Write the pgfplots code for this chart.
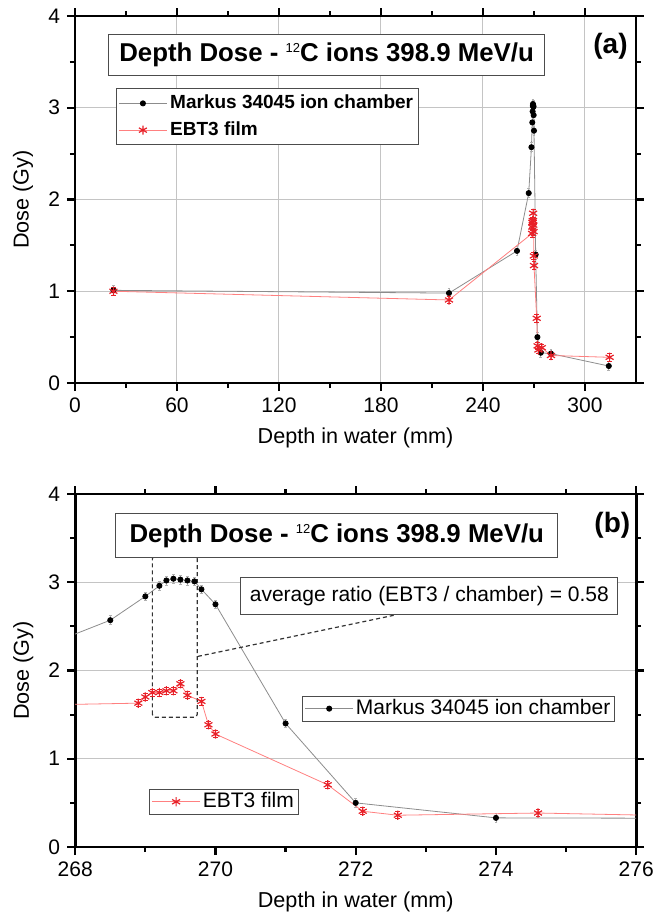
\documentclass[border=0pt]{standalone}
\usepackage{pgfplots}
\pgfplotsset{compat=1.18}
\usepackage{pgfplotstable}
\usepackage{fontspec}
\setmainfont{Liberation Sans}
\usetikzlibrary{plotmarks}

\definecolor{chline}{HTML}{8C8C8C}
\definecolor{chbar}{HTML}{B0B0B0}
\definecolor{filmline}{HTML}{FF8080}
\definecolor{filmmark}{HTML}{E82028}
\definecolor{gridc}{HTML}{C4C4C4}

\pgfplotstableread{
x y
22.6 1.01
220 0.98
260 1.44
266.9 2.07
268.5 2.57
269.0 2.84
269.2 2.96
269.3 3.02
269.4 3.04
269.5 3.03
269.6 3.02
269.7 3.01
269.8 2.92
270.0 2.75
271.0 1.40
272.0 0.50
274.0 0.33
280.0 0.32
314.0 0.185
}\chamber

\pgfplotstableread{
x y
22.6 1.00
220 0.905
268.9 1.63
269.0 1.70
269.1 1.75
269.2 1.75
269.3 1.77
269.4 1.77
269.5 1.85
269.6 1.72
269.8 1.65
269.9 1.385
270.0 1.28
271.6 0.705
272.1 0.405
272.6 0.36
274.6 0.385
280.0 0.30
314.5 0.28
}\film

\pgfplotsset{
  legend image code/.code={\draw[mark repeat=2,mark phase=2,#1] plot coordinates {(0cm,0cm)(0.42cm,0cm)(0.84cm,0cm)};},
  chstyle/.style={color=chline, line width=0.4pt, mark=*, mark size=1.3pt,
    mark options={fill=black, draw=black},
    error bars/y dir=both, error bars/y fixed=0.05,
    error bars/error bar style={chbar, line width=0.35pt},
    error bars/error mark options={rotate=90, mark size=0.7pt, chbar}},
  filmstyle/.style={color=filmline, line width=0.4pt, mark=asterisk, mark size=2.3pt,
    mark options={draw=filmmark, line width=0.6pt},
    error bars/y dir=both, error bars/y fixed=0.04,
    error bars/error bar style={filmline, line width=0.4pt},
    error bars/error mark options={rotate=90, mark size=1.2pt, filmmark}},
  mystyle/.style={
    scale only axis, width=280.5pt,
    axis line style={line width=1.4pt},
    tick align=outside,
    major tick length=4pt, minor tick length=2.5pt,
    every tick/.style={black, line width=1.1pt},
    tick label style={font=\fontsize{10.5}{12}\selectfont},
    label style={font=\fontsize{10.8}{12}\selectfont},
    /pgf/number format/assume math mode=true,
    /pgf/number format/1000 sep={},
    ymin=0, ymax=4, ytick={0,1,2,3,4}, minor ytick={0.5,1.5,2.5,3.5},
    ylabel={Dose (Gy)}, xlabel={Depth in water (mm)},
    ylabel style={at={(axis description cs:-0.0927,0.5)}, anchor=center},
    xlabel style={at={(axis description cs:0.5,0)}, anchor=center, yshift=-27.5pt},
    every major grid/.style={gridc, line width=0.5pt},
  },
}

\begin{document}
\begin{tikzpicture}
% ---------- (a) ----------
\begin{axis}[mystyle, at={(0,232pt)}, anchor=south west, height=183.5pt,
  xmin=0, xmax=330, xtick={0,60,...,300}, minor xtick={30,90,150,210,270},
  grid=major,
  legend style={at={(axis description cs:0.0733,0.8025)}, anchor=north west,
    font=\bfseries\fontsize{9.5}{11}\selectfont, draw=black!70, line width=0.5pt,
    inner xsep=1pt, inner ysep=1.5pt, row sep=2pt, nodes={inner sep=1.5pt}},
  legend cell align=left]
\addplot[chstyle] table {\chamber};
\addlegendentry{Markus 34045 ion chamber}
\addplot[filmstyle] table {\film};
\addlegendentry{EBT3 film}
\node[draw=black!70, line width=0.5pt, fill=white, minimum width=218pt, minimum height=20.4pt, inner sep=0pt,
  font=\bfseries\fontsize{12.9}{14}\selectfont] at (axis cs:148,3.575)
  {Depth Dose - \raisebox{4.5pt}{\mdseries\fontsize{6.5}{7}\selectfont 12}C ions 398.9 MeV/u};
\node[font=\bfseries\fontsize{14}{14}\selectfont] at (axis cs:315,3.67) {(a)};
\end{axis}
% ---------- (b) ----------
\begin{axis}[mystyle, at={(0,0)}, anchor=south west, height=176.5pt,
  xmin=268, xmax=276, xtick={268,270,...,276}, minor xtick={269,271,273,275},
  ymajorgrids,
  legend style={at={(axis description cs:0.405,0.4288)}, anchor=north west,
    font=\fontsize{10.5}{12}\selectfont, draw=black!70, line width=0.5pt,
    inner xsep=1pt, inner ysep=0.5pt, nodes={inner sep=1.2pt}},
  legend cell align=left]
\addplot[chstyle, forget plot] table {\chamber};
\addplot[filmstyle, forget plot] table {\film};
\addlegendimage{chstyle}
\addlegendentry{Markus 34045 ion chamber}
\draw[dashed, dash pattern=on 2pt off 1.5pt, rounded corners=1.5pt, line width=0.6pt, black!80]
  (axis cs:269.1,1.47) rectangle (axis cs:269.74,3.30);
\draw[dashed, dash pattern=on 2pt off 1.5pt, line width=0.6pt, black!80]
  (axis cs:269.75,2.16) -- (axis cs:272.57,2.63);
\node[draw=black!70, line width=0.5pt, fill=white, minimum width=188.5pt, minimum height=18.5pt, inner sep=0pt,
  font=\fontsize{10.5}{12}\selectfont] at (axis cs:273.05,2.84)
  {average ratio (EBT3 / chamber) = 0.58};
\node[draw=black!70, line width=0.5pt, fill=white, minimum width=221pt, minimum height=22pt, inner sep=0pt,
  font=\bfseries\fontsize{12.9}{14}\selectfont] at (axis cs:271.73,3.53)
  {Depth Dose - \raisebox{4.5pt}{\mdseries\fontsize{6.5}{7}\selectfont 12}C ions 398.9 MeV/u};
\node[font=\bfseries\fontsize{14}{14}\selectfont] at (axis cs:275.66,3.65) {(b)};
\end{axis}
% second legend for (b)
\begin{axis}[scale only axis, width=280.5pt, height=176.5pt, at={(0,0)}, anchor=south west,
  hide axis, xmin=268, xmax=276, ymin=0, ymax=4,
  legend style={at={(axis description cs:0.1325,0.165)}, anchor=north west,
    font=\fontsize{10.5}{12}\selectfont, draw=black!70, line width=0.5pt,
    inner xsep=1pt, inner ysep=0.5pt, nodes={inner sep=1.2pt}},
  legend cell align=left]
\addlegendimage{filmstyle}
\addlegendentry{EBT3 film}
\end{axis}
\pgfresetboundingbox
\path (-37.5pt,-35.5pt) rectangle (290.5pt,423.5pt);
\end{tikzpicture}
\end{document}
